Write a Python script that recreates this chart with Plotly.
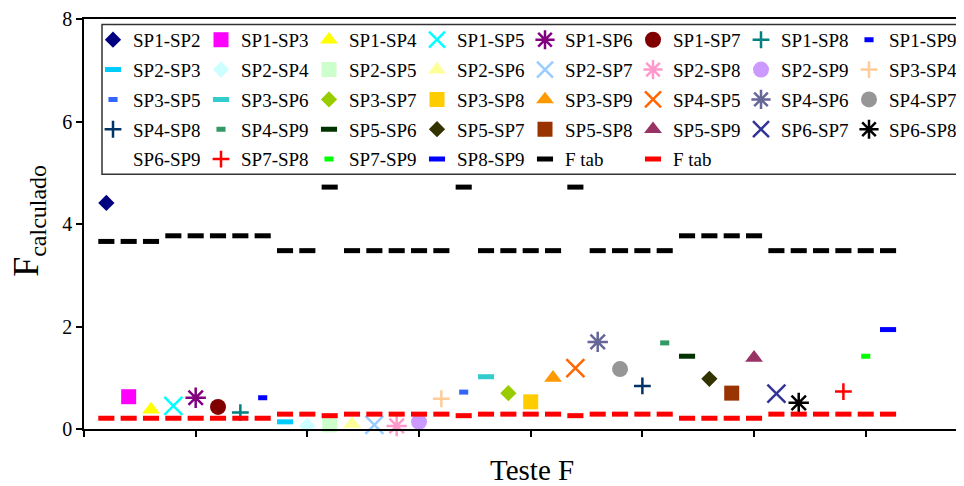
import plotly.graph_objects as go

# ---------------- data ----------------
pairs = ["SP1-SP2", "SP1-SP3", "SP1-SP4", "SP1-SP5", "SP1-SP6", "SP1-SP7", "SP1-SP8", "SP1-SP9",
         "SP2-SP3", "SP2-SP4", "SP2-SP5", "SP2-SP6", "SP2-SP7", "SP2-SP8", "SP2-SP9", "SP3-SP4",
         "SP3-SP5", "SP3-SP6", "SP3-SP7", "SP3-SP8", "SP3-SP9", "SP4-SP5", "SP4-SP6", "SP4-SP7",
         "SP4-SP8", "SP4-SP9", "SP5-SP6", "SP5-SP7", "SP5-SP8", "SP5-SP9", "SP6-SP7", "SP6-SP8",
         "SP6-SP9", "SP7-SP8", "SP7-SP9", "SP8-SP9"]
test_index = list(range(1, 37))
f_calculado = [4.41, 0.63, 0.38, 0.45, 0.61, 0.43, 0.32, 0.61,
               0.14, 0.06, 0.08, 0.10, 0.08, 0.06, 0.14, 0.59,
               0.72, 1.02, 0.70, 0.53, 1.00, 1.19, 1.70, 1.17,
               0.84, 1.68, 1.42, 0.98, 0.70, 1.39, 0.69, 0.51,
               None, 0.73, 1.42, 1.94]
f_tab_upper = [3.66, 3.66, 3.66, 3.77, 3.77, 3.77, 3.77, 3.77,
               3.48, 3.48, 4.72, 3.48, 3.48, 3.48, 3.48, 3.48,
               4.72, 3.48, 3.48, 3.48, 3.48, 4.72, 3.48, 3.48,
               3.48, 3.48, 3.77, 3.77, 3.77, 3.77, 3.48, 3.48,
               3.48, 3.48, 3.48, 3.48]
f_tab_lower = [0.21, 0.21, 0.21, 0.21, 0.21, 0.21, 0.21, 0.21,
               0.29, 0.29, 0.26, 0.29, 0.29, 0.29, 0.29, 0.29,
               0.26, 0.29, 0.29, 0.29, 0.29, 0.26, 0.29, 0.29,
               0.29, 0.29, 0.21, 0.21, 0.21, 0.21, 0.29, 0.29,
               0.29, 0.29, 0.29, 0.29]
y_ticks = [0, 2, 4, 6, 8]

# ---------------- styles ----------------
colors = ["#000080", "#FF00FF", "#FFFF00", "#00FFFF", "#800080", "#800000", "#008080", "#0000FF",
          "#00CCFF", "#CCFFFF", "#CCFFCC", "#FFFF99", "#99CCFF", "#FF99CC", "#CC99FF", "#FFCC99",
          "#3366FF", "#33CCCC", "#99CC00", "#FFCC00", "#FF9900", "#FF6600", "#666699", "#969696",
          "#003366", "#339966", "#003300", "#333300", "#993300", "#993366", "#333399", "#000000",
          "rgba(0,0,0,0)", "#FF0000", "#00FF00", "#0000FF"]
shapes_kind = ["diamond", "square", "triangle", "x", "asterisk", "circle", "cross", "dash_s",
               "dash_l", "diamond", "square", "triangle", "x", "asterisk", "circle", "cross",
               "dash_s", "dash_l", "diamond", "square", "triangle", "x", "asterisk", "circle",
               "cross", "dash_s", "dash_l", "diamond", "square", "triangle", "x", "asterisk",
               "circle", "cross", "dash_s", "dash_l"]
kind_style = {
    "diamond": dict(symbol="diamond", size=12.5, lw=0),
    "square": dict(symbol="square", size=15, lw=0),
    "triangle": dict(symbol="triangle-up", size=15.5, lw=0),
    "x": dict(symbol="x-thin", size=18, lw=2.5),
    "asterisk": dict(symbol="asterisk", size=17, lw=2.5),
    "circle": dict(symbol="circle", size=16, lw=0),
    "cross": dict(symbol="cross-thin", size=12, lw=2.5),
    "dash_s": dict(symbol="line-ew", size=6.5, lw=5),
    "dash_l": dict(symbol="line-ew", size=11.5, lw=5),
}

FONT = "Liberation Serif"
legend_names = ["legend", "legend2", "legend3", "legend4", "legend5"]
per_row = 8

fig = go.Figure()
for i, name in enumerate(pairs):
    st = kind_style[shapes_kind[i]]
    fig.add_trace(go.Scatter(
        x=[test_index[i]], y=[f_calculado[i]], mode="markers", name=name,
        legend=legend_names[i // per_row],
        marker=dict(symbol=st["symbol"], size=st["size"], color=colors[i],
                    line=dict(width=st["lw"], color=colors[i])),
        cliponaxis=False,
    ))

for j, (vals, col) in enumerate([(f_tab_upper, "#000000"), (f_tab_lower, "#FF0000")]):
    idx = len(pairs) + j
    fig.add_trace(go.Scatter(
        x=test_index, y=vals, mode="markers", name="F tab",
        legend=legend_names[idx // per_row],
        marker=dict(symbol="line-ew", size=11.5, color=col, line=dict(width=5, color=col)),
        cliponaxis=False,
    ))

# ---------------- layout geometry (pixels) ----------------
OFF = 8                      # page body margin offset
W, H = 956, 478
L, T = 76, 9
R = 0
B = H - (429.3 - OFF)
pw = W - L - R
ph = H - T - B


def px_x(px):
    return (px - OFF - L) / pw


def px_y(py):
    return (H - B - (py - OFF)) / ph


row_centers = [38, 68, 98, 128, 158]
legend_left = 93
leg_common = dict(orientation="h", entrywidth=63, entrywidthmode="pixels",
                  font=dict(family=FONT, size=19, color="black"),
                  bgcolor="rgba(0,0,0,0)", borderwidth=0,
                  xanchor="left", yanchor="middle", traceorder="normal",
                  itemclick=False, itemdoubleclick=False)
legend_layout = {}
for k, ln in enumerate(legend_names):
    legend_layout[ln] = dict(leg_common, x=px_x(legend_left), y=px_y(row_centers[k]))

fig.update_layout(
    width=W, height=H,
    margin=dict(l=L, r=R, t=T, b=B),
    paper_bgcolor="white", plot_bgcolor="white",
    font=dict(family=FONT, color="black"),
    showlegend=True,
    xaxis=dict(range=[0, 39.4], tick0=0, dtick=5, ticks="outside", ticklen=6,
               tickwidth=1.5, tickcolor="black", showticklabels=False,
               showgrid=False, zeroline=False, showline=True, linecolor="black",
               linewidth=1.5, mirror=True),
    yaxis=dict(range=[0, 8], tickvals=y_ticks, ticks="outside", ticklen=6,
               tickwidth=1.5, tickcolor="black", ticklabeloverflow="allow",
               tickfont=dict(family=FONT, size=20, color="black"),
               showgrid=False, zeroline=False, showline=True, linecolor="black",
               linewidth=1.5),
    shapes=[dict(type="rect", xref="paper", yref="paper",
                 x0=px_x(102), x1=1.05, y0=px_y(173), y1=px_y(22.5),
                 line=dict(color="#333333", width=1.5), fillcolor="rgba(0,0,0,0)",
                 layer="below")],
    annotations=[
        dict(text="Teste F", xref="paper", yref="paper", x=px_x(532), y=px_y(471),
             xanchor="center", yanchor="middle", showarrow=False,
             font=dict(family=FONT, size=29, color="black")),
        dict(text="F<sub><span style='font-size:24px'>calculado</span></sub>",
             xref="paper", yref="paper", x=px_x(29), y=px_y(220),
             xanchor="center", yanchor="middle", showarrow=False, textangle=-90,
             font=dict(family=FONT, size=36, color="black")),
    ],
    **legend_layout,
)

fig.write_html("out.html")
